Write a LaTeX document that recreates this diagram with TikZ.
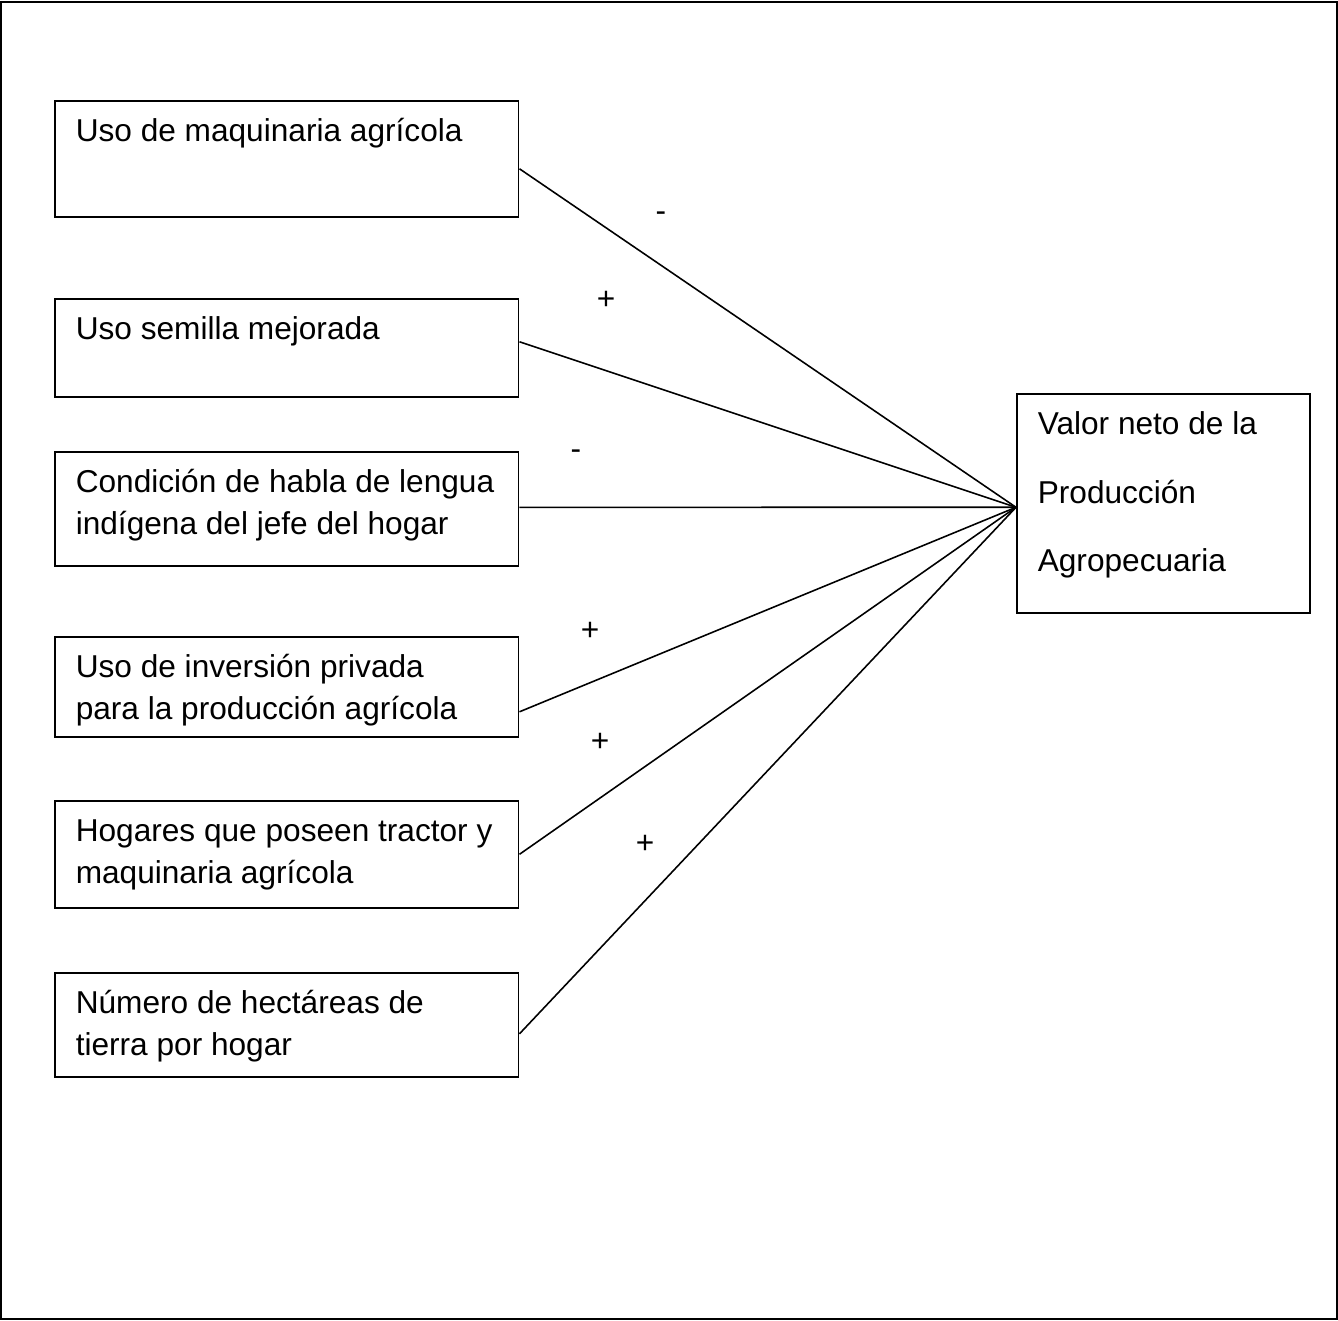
\documentclass[tikz,border=0pt]{standalone}
\usepackage{fontspec}
\setmainfont{Liberation Sans}
\newcommand{\factortxt}[2]{\parbox[t][#1][t]{8.44cm}{\rule{0pt}{0.82cm}#2}}
\tikzset{
  factor/.style={draw,line width=0.9pt,anchor=north west,inner xsep=0.42cm,inner ysep=0pt,
    font=\fontsize{18}{24}\selectfont},
  link/.style={line width=0.9pt},
  sign/.style={font=\fontsize{18}{24}\selectfont,inner sep=0pt}
}
\begin{document}
\begin{tikzpicture}[x=0.02cm,y=-0.02cm]
\useasboundingbox (0,0) rectangle (1338,1320);
\draw[line width=0.9pt] (1,2) rectangle (1337,1319);
% factores
\node[factor] (maq) at (54,100) {\factortxt{2.32cm}{Uso de maquinaria agrícola}};
\node[factor] (sem) at (54,298) {\factortxt{1.96cm}{Uso semilla mejorada}};
\node[factor] (len) at (54,451) {\factortxt{2.28cm}{Condición de habla de lengua\\indígena del jefe del hogar}};
\node[factor] (inv) at (54,636) {\factortxt{2.00cm}{Uso de inversión privada\\para la producción agrícola}};
\node[factor] (tra) at (54,800) {\factortxt{2.14cm}{Hogares que poseen tractor y\\maquinaria agrícola}};
\node[factor] (hec) at (54,972) {\factortxt{2.08cm}{Número de hectáreas de\\tierra por hogar}};
% resultado
\node[factor,font=\fontsize{18}{39}\selectfont] (val) at (1016,393)
  {\parbox[t][4.38cm][t]{5.02cm}{\rule{0pt}{0.82cm}Valor neto de la\\Producción\\Agropecuaria}};
\coordinate (c) at ([yshift=-0.08cm]val.west);
\draw[link] ([yshift=-0.2cm]maq.east) -- (c);
\draw[link] ([yshift=0.12cm]sem.east) -- (c);
\draw[link] ([yshift=0.03cm]len.east) -- (c);
\draw[link] ([yshift=-0.5cm]inv.east) -- (c);
\draw[link] (tra.east) -- (c);
\draw[link] ([yshift=-0.18cm]hec.east) -- (c);
% signos
\node[sign] (s1) at (661,217) {-};
\node[sign] (s2) at (606,300) {+};
\node[sign] (s3) at (576,455) {-};
\node[sign] (s4) at (590,631) {+};
\node[sign] (s5) at (600,742) {+};
\node[sign] (s6) at (645,844) {+};
\end{tikzpicture}
\end{document}
